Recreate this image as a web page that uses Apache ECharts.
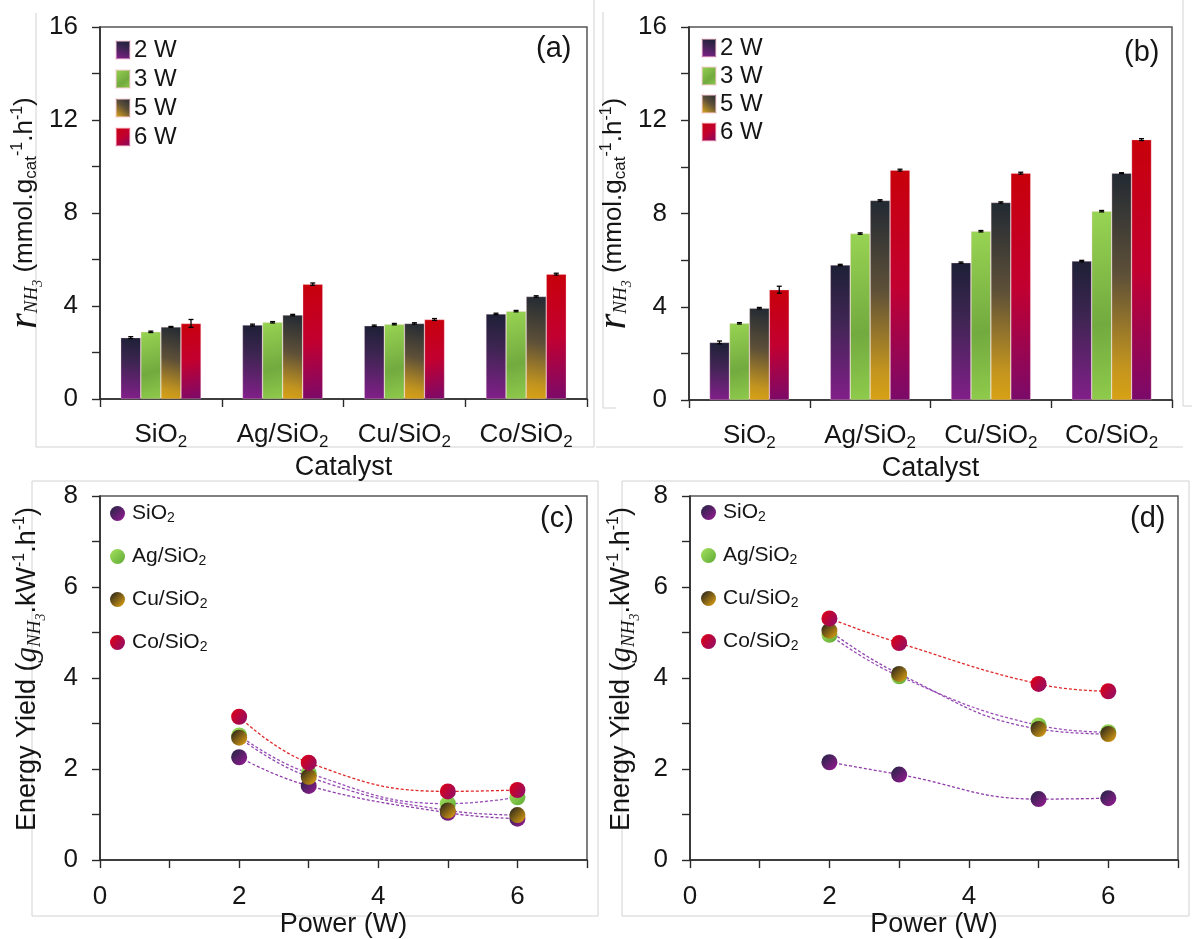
<!DOCTYPE html>
<html>
<head>
<meta charset="utf-8">
<script src="https://cdn.jsdelivr.net/npm/echarts@6/dist/echarts.min.js"></script>
<style>
html,body{margin:0;padding:0;background:#fff;}
#chart{width:1192px;height:939px;}
</style>
</head>
<body>
<div id="chart"></div>
<script>
// ---------- data ----------
const catalysts = ['SiO2', 'Ag/SiO2', 'Cu/SiO2', 'Co/SiO2'];
const powers = ['2 W', '3 W', '5 W', '6 W'];
const powerW = [2, 3, 5, 6];

// panel (a) rates
const a2W = [2.64, 3.18, 3.15, 3.66];
const a3W = [2.89, 3.30, 3.22, 3.78];
const a5W = [3.10, 3.61, 3.25, 4.41];
const a6W = [3.25, 4.94, 3.42, 5.37];
const aErr2W = [0.04, 0.04, 0.03, 0.03];
const aErr3W = [0.03, 0.03, 0.03, 0.03];
const aErr5W = [0.02, 0.03, 0.03, 0.03];
const aErr6W = [0.17, 0.05, 0.04, 0.04];

// panel (b) rates
const b2W = [2.47, 5.79, 5.89, 5.96];
const b3W = [3.29, 7.14, 7.24, 8.10];
const b5W = [3.94, 8.56, 8.47, 9.73];
const b6W = [4.73, 9.86, 9.73, 11.17];
const bErr2W = [0.06, 0.03, 0.03, 0.03];
const bErr3W = [0.03, 0.03, 0.03, 0.03];
const bErr5W = [0.03, 0.03, 0.03, 0.02];
const bErr6W = [0.15, 0.04, 0.04, 0.04];

// panel (c) energy yield
const cSiO2 = [2.26, 1.63, 1.04, 0.91];
const cAg = [2.74, 1.91, 1.24, 1.38];
const cCu = [2.69, 1.83, 1.09, 0.99];
const cCo = [3.15, 2.14, 1.51, 1.54];

// panel (d) energy yield
const dSiO2 = [2.15, 1.88, 1.34, 1.36];
const dAg = [4.95, 4.04, 2.96, 2.81];
const dCu = [5.04, 4.09, 2.88, 2.77];
const dCo = [5.31, 4.77, 3.87, 3.71];

// ---------- styles ----------
const FONT = 'Liberation Sans, Arial, sans-serif';
const SERIF = 'Liberation Serif, Times New Roman, serif';
const TXT = '#151515';
function lg(x, y, x2, y2, stops) {
  return {type: 'linear', x: x, y: y, x2: x2, y2: y2,
    colorStops: stops.map(s => ({offset: s[0], color: s[1]}))};
}
const barFill = [
  lg(0.7, 0, 0.3, 1, [[0, '#1d2036'], [0.4, '#3e2552'], [1, '#821f8a']]),
  lg(0, 0, 1, 1, [[0, '#98d453'], [0.6, '#72aa3f'], [1, '#8fcb4c']]),
  lg(1, 0, 0, 1, [[0, '#212933'], [0.45, '#5e5038'], [0.85, '#c3951f'], [1, '#d8a214']]),
  lg(0, 0, 1, 1, [[0, '#c8000a'], [0.5, '#c20030'], [1, '#7a0a6a']])
];
const markFill = [
  lg(0, 0, 1, 1, [[0, '#1f2540'], [1, '#9a1a96']]),
  lg(0, 0, 1, 1, [[0, '#a4e25e'], [1, '#5ea935']]),
  lg(0, 0, 1, 1, [[0, '#1c1c1c'], [1, '#e8a812']]),
  lg(0, 0.3, 1, 1, [[0, '#d8001a'], [1, '#8a1070']])
];
const lineCol = ['#8e3aa8', '#9a50b8', '#9248b0', '#e02828'];

const catRich = {
  a: {fontSize: 26, fontFamily: FONT, color: TXT, lineHeight: 36, verticalAlign: 'middle'},
  s: {fontSize: 17, fontFamily: FONT, color: TXT, lineHeight: 17, verticalAlign: 'bottom', padding: [0, 0, 2, 0]}
};
function subFmt(name) {
  const i = name.lastIndexOf('2');
  return '{a|' + name.slice(0, i) + '}{s|2}';
}
function nameRich(base) {
  return {
    t: {fontSize: base, fontFamily: FONT, color: TXT, lineHeight: 38, verticalAlign: 'middle'},
    r: {fontSize: base + 14, fontFamily: SERIF, fontStyle: 'italic', color: TXT, lineHeight: 38, verticalAlign: 'middle'},
    g: {fontSize: base + 4, fontFamily: SERIF, fontStyle: 'italic', color: TXT, lineHeight: 38, verticalAlign: 'middle'},
    nh: {fontSize: 19, fontFamily: SERIF, fontStyle: 'italic', color: TXT, lineHeight: 19, verticalAlign: 'bottom', padding: [0, 0, 3, 0]},
    n3: {fontSize: 14, fontFamily: SERIF, fontStyle: 'italic', color: TXT, lineHeight: 14, verticalAlign: 'bottom', padding: [0, 0, -1, 0]},
    sub: {fontSize: 17, fontFamily: FONT, color: TXT, lineHeight: 17, verticalAlign: 'bottom', padding: [0, 0, 4, 0]},
    sup: {fontSize: 16, fontFamily: FONT, color: TXT, lineHeight: 16, verticalAlign: 'top', padding: [3, 0, 0, 0]}
  };
}
const rateName = '{r|r}{nh|NH}{n3|3}{t| (mmol.g}{sub|cat}{sup|-1}{t|.h}{sup|-1}{t|)}';
const yieldName = '{t|Energy Yield (}{g|g}{nh|NH}{n3|3}{t|.kW}{sup|-1}{t|.h}{sup|-1}{t|)}';

const grids = [
  {left: 100, top: 27, width: 487, height: 372},
  {left: 689, top: 27, width: 483, height: 373},
  {left: 100, top: 496, width: 487, height: 373},
  {left: 690, top: 496, width: 488, height: 373}
].map(g => Object.assign(g, {show: true, borderColor: '#555', borderWidth: 1.5, backgroundColor: 'transparent', containLabel: false}));

const axisLine = {show: true, lineStyle: {color: '#2a2a2a', width: 1.6}};
const tick = {show: true, inside: false, length: 8, lineStyle: {color: '#2a2a2a', width: 1.4}};

function catX(gi) {
  return {
    type: 'category', gridIndex: gi, data: catalysts,
    axisLine: axisLine, axisTick: Object.assign({alignWithLabel: false}, tick),
    axisLabel: {margin: 18, formatter: subFmt, rich: catRich},
    name: 'Catalyst', nameLocation: 'middle', nameGap: 49,
    nameTextStyle: {fontSize: 27, fontFamily: FONT, color: TXT},
    splitLine: {show: false}
  };
}
function valX(gi) {
  return {
    type: 'value', gridIndex: gi, min: 0, max: 7, interval: 1,
    axisLine: axisLine, axisTick: tick,
    axisLabel: {margin: 24, fontSize: 26, fontFamily: FONT, color: TXT,
      formatter: v => (v % 2 === 0 ? String(v) : '')},
    name: 'Power (W)', nameLocation: 'middle', nameGap: 49,
    nameTextStyle: {fontSize: 27, fontFamily: FONT, color: TXT},
    splitLine: {show: false}
  };
}
function valY(gi, max, interval, name, gap, base, shift) {
  return {
    type: 'value', gridIndex: gi, min: 0, max: max, interval: interval,
    axisLine: axisLine, axisTick: tick,
    minorTick: {show: true, splitNumber: 2, length: 8, lineStyle: {color: '#2a2a2a', width: 1.4}},
    axisLabel: {margin: 22, fontSize: 26, fontFamily: FONT, color: TXT},
    name: name, nameLocation: 'middle', nameGap: gap, nameRotate: 90,
    nameTextStyle: {rich: nameRich(base), padding: [0, 0, 0, shift]},
    splitLine: {show: false}
  };
}

const series = [];
function addBars(gi, vals, errs) {
  vals.forEach((v, k) => {
    series.push({
      type: 'bar', name: powers[k], xAxisIndex: gi, yAxisIndex: gi,
      data: v, barGap: '0%', barCategoryGap: '34%',
      itemStyle: {color: barFill[k], borderColor: 'rgba(255,210,220,0.5)', borderWidth: 0.6},
      emphasis: {disabled: true}, z: 2
    });
  });
  errs.forEach((e, k) => {
    series.push({
      type: 'custom', name: 'err' + gi + '_' + k, xAxisIndex: gi, yAxisIndex: gi,
      data: vals[k].map((v, i) => [i, v, e[i]]),
      encode: {x: 0, y: 1}, z: 5, silent: true,
      renderItem: function (params, api) {
        const ci = api.value(0), v = api.value(1), er = api.value(2);
        const c = api.coord([ci, v]);
        const bandW = api.size([1, 0])[0];
        const bw = bandW * (1 - 0.34) / 4;
        const x = c[0] + (k - 1.5) * bw;
        const yt = api.coord([ci, v + er])[1];
        const yb = api.coord([ci, v - er])[1];
        const st = {stroke: '#000', lineWidth: 1.3};
        return {type: 'group', children: [
          {type: 'line', shape: {x1: x, y1: yt, x2: x, y2: yb}, style: st},
          {type: 'line', shape: {x1: x - 2.5, y1: yt, x2: x + 2.5, y2: yt}, style: st},
          {type: 'line', shape: {x1: x - 2.5, y1: yb, x2: x + 2.5, y2: yb}, style: st}
        ]};
      }
    });
  });
}
addBars(0, [a2W, a3W, a5W, a6W], [aErr2W, aErr3W, aErr5W, aErr6W]);
addBars(1, [b2W, b3W, b5W, b6W], [bErr2W, bErr3W, bErr5W, bErr6W]);

function addLines(gi, vals) {
  vals.forEach((v, k) => {
    series.push({
      type: 'line', name: catalysts[k], xAxisIndex: gi, yAxisIndex: gi,
      data: v.map((y, i) => [powerW[i], y]),
      smooth: 0.45, symbol: 'circle', symbolSize: 16,
      lineStyle: {color: lineCol[k], width: 1.3, type: [3, 2]},
      itemStyle: {color: markFill[k], borderWidth: 0},
      emphasis: {disabled: true}, z: 3 + k
    });
  });
}
addLines(2, [cSiO2, cAg, cCu, cCo]);
addLines(3, [dSiO2, dAg, dCu, dCo]);

const legRich = {
  a: {fontSize: 21, fontFamily: FONT, color: TXT, lineHeight: 28, verticalAlign: 'middle'},
  s: {fontSize: 14, fontFamily: FONT, color: TXT, lineHeight: 14, verticalAlign: 'bottom', padding: [0, 0, 2, 0]}
};
function barLegend(left, top, gap) {
  return {
    data: powers, left: left, top: top, orient: 'vertical', icon: 'rect',
    itemWidth: 14, itemHeight: 18, itemGap: gap, padding: 0, selectedMode: false,
    textStyle: {fontSize: 24, fontFamily: FONT, color: TXT, lineHeight: 24, padding: [2, 0, 0, -1]}
  };
}
function lineLegend(left, top) {
  return {
    data: catalysts, left: left, top: top, orient: 'vertical', icon: 'circle',
    itemWidth: 15, itemHeight: 15, itemGap: 18.5, padding: 0, selectedMode: false,
    formatter: subFmt,
    textStyle: {rich: legRich, padding: [0, 0, 0, 2]}
  };
}

function frameLine(points) {
  return {type: 'polyline', shape: {points: points}, style: {stroke: '#d2d2d2', lineWidth: 1, fill: null}, silent: true, z: -1};
}
function panelTag(text, x, y) {
  return {type: 'text', left: x, top: y, style: {text: text, fontSize: 29, fontFamily: FONT, fill: TXT}, z: 10};
}

const option = {
  backgroundColor: '#fff',
  animation: false,
  grid: grids,
  xAxis: [catX(0), catX(1), valX(2), valX(3)],
  yAxis: [valY(0, 16, 4, rateName, 54, 26, 0), valY(1, 16, 4, rateName, 52, 26, 0),
          valY(2, 8, 2, yieldName, 53, 27, 18), valY(3, 8, 2, yieldName, 49, 27, 18)],
  legend: [barLegend(115, 37, 3), barLegend(701, 35, 2),
           lineLegend(110, 503), lineLegend(701, 502)],
  series: series,
  graphic: [
    frameLine([[36, 13], [36, 447], [594, 447], [594, 0]]),
    frameLine([[603, 12], [603, 408], [616, 408]]),
    frameLine([[596, 447], [1183, 447]]),
    frameLine([[1183, 0], [1183, 406], [1192, 406]]),
    frameLine([[32, 481], [598, 481], [598, 916], [32, 916], [32, 481]]),
    frameLine([[622, 481], [1189, 481], [1189, 916], [622, 916], [622, 481]]),
    panelTag('(a)', 536, 34),
    panelTag('(b)', 1124, 38),
    panelTag('(c)', 540, 504),
    panelTag('(d)', 1130, 504)
  ]
};

const chart = echarts.init(document.getElementById('chart'), null, {renderer: 'canvas'});
chart.setOption(option);
</script>
</body>
</html>
